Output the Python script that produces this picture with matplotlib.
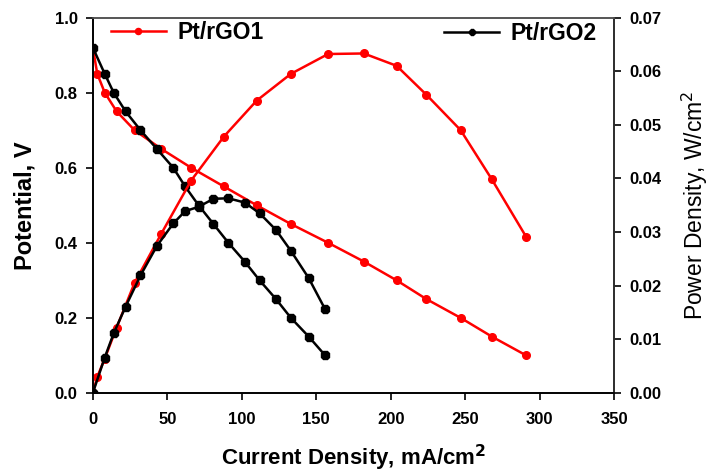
import matplotlib

matplotlib.use("Agg")
import matplotlib.pyplot as plt

plt.rcParams["font.family"] = ["Liberation Sans", "DejaVu Sans"]

# Pt/rGO1: current density (mA/cm2), potential (V), power density (W/cm2)
x_go1 = [0, 3, 8, 16, 28, 46, 66, 88, 110, 133, 158, 182, 204, 224, 247, 268, 291]
v_go1 = [0.92, 0.85, 0.80, 0.75, 0.70, 0.65, 0.60, 0.55, 0.50, 0.45, 0.40, 0.35,
         0.30, 0.25, 0.20, 0.15, 0.10]
p_go1 = [0.0, 0.0030, 0.0064, 0.0122, 0.0205, 0.0297, 0.0396, 0.0478, 0.0545,
         0.0595, 0.0632, 0.0633, 0.0610, 0.0556, 0.0490, 0.0398, 0.0291]

# Pt/rGO2
x_go2 = [0, 8, 14, 22, 32, 43, 54, 62, 71, 81, 91, 102, 112, 123, 133, 145, 156]
v_go2 = [0.92, 0.85, 0.80, 0.75, 0.70, 0.65, 0.60, 0.55, 0.50, 0.45, 0.40, 0.35,
         0.30, 0.25, 0.20, 0.15, 0.10]
p_go2 = [0.0, 0.0066, 0.0111, 0.0161, 0.0219, 0.0274, 0.0316, 0.0339, 0.0347,
         0.0362, 0.0363, 0.0355, 0.0335, 0.0304, 0.0265, 0.0214, 0.0156]

x_ticks = [0, 50, 100, 150, 200, 250, 300, 350]
v_ticks = [0.0, 0.2, 0.4, 0.6, 0.8, 1.0]
p_ticks = [0.00, 0.01, 0.02, 0.03, 0.04, 0.05, 0.06, 0.07]

fig = plt.figure(figsize=(7.14, 4.74), dpi=100)
ax = fig.add_axes([0.130, 0.171, 0.730, 0.792])
ax2 = ax.twinx()

red_style = dict(color="#ff0000", lw=1.8, marker="o", ms=5.5)
black_style = dict(color="black", lw=1.8, marker="8", ms=6)

line1, = ax.plot(x_go1, v_go1, **red_style)
line2, = ax.plot(x_go2, v_go2, **black_style)
ax2.plot(x_go1, p_go1, **red_style)
ax2.plot(x_go2, p_go2, **black_style)

ax.set_xlim(0, 350)
ax.set_ylim(0, 1.0)
ax2.set_ylim(0, 0.07)
ax.set_xticks(x_ticks)
ax.set_yticks(v_ticks)
ax2.set_yticks(p_ticks)
ax.set_yticklabels([f"{t:.1f}" for t in v_ticks])
ax2.set_yticklabels([f"{t:.2f}" for t in p_ticks])

for a in (ax, ax2):
    a.tick_params(direction="out", length=5, width=1.2, labelsize=12, pad=6)
    for lbl in a.get_xticklabels() + a.get_yticklabels():
        lbl.set_fontweight("bold")
    for s in a.spines.values():
        s.set_linewidth(1.2)
ax.tick_params(axis="x", pad=9)
ax.spines["top"].set_color("#555555")
ax2.spines["top"].set_color("#555555")
ax2.spines["right"].set_color("#333333")

ax.set_xlabel("Current Density, mA/cm$^{\\mathbf{2}}$", fontsize=16, fontweight="bold", labelpad=11)
ax.set_ylabel("Potential, V", fontsize=17, fontweight="bold", labelpad=13)
ax2.set_ylabel("Power Density, W/cm$^2$", fontsize=16.5, labelpad=13)

leg1 = ax2.legend([line1], ["Pt/rGO1"], loc="center left", bbox_to_anchor=(0.0345, 0.959),
                  frameon=False, prop=dict(size=16.5, weight="bold"), handlelength=2.4,
                  handletextpad=0.5, borderpad=0, borderaxespad=0, markerscale=0.8)
ax2.add_artist(leg1)
ax2.legend([line2], ["Pt/rGO2"], loc="center right", bbox_to_anchor=(0.967, 0.957),
           frameon=False, prop=dict(size=16.5, weight="bold"), handlelength=2.4,
           handletextpad=0.5, borderpad=0, borderaxespad=0, markerscale=0.8)

fig.savefig("out.png", dpi=100)
